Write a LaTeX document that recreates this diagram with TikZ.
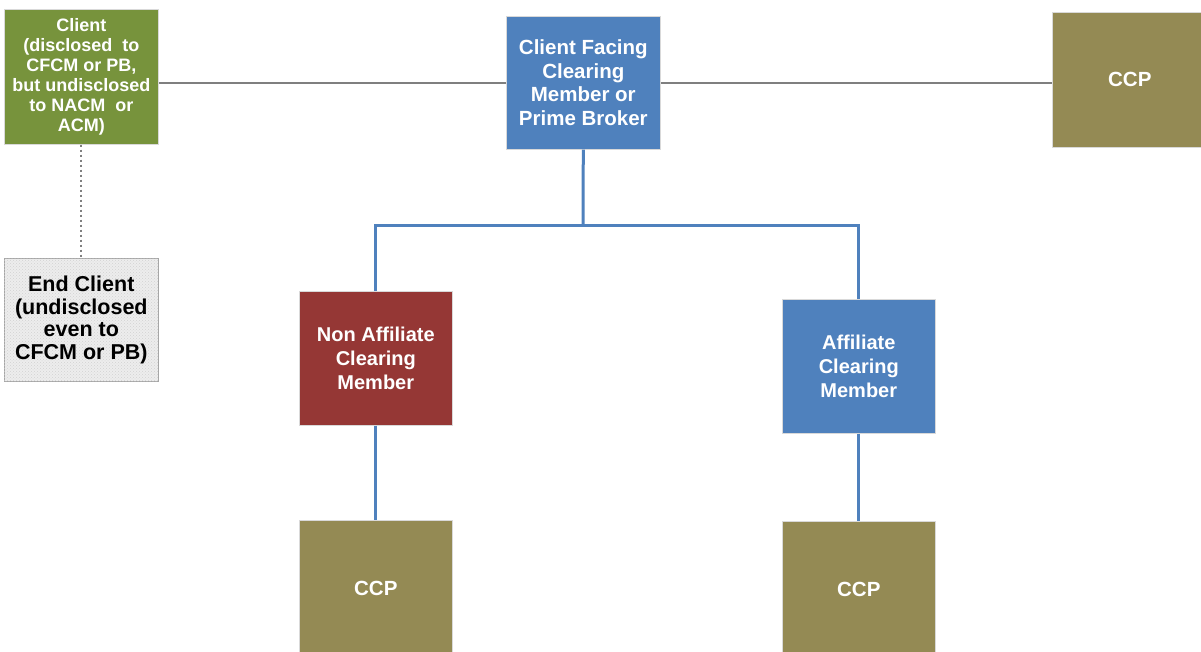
\documentclass[tikz,border=0pt]{standalone}
\usepackage{fontspec}
\setmainfont{Liberation Sans}
\usetikzlibrary{patterns}
\definecolor{cgreen}{HTML}{77933C}
\definecolor{cblue}{HTML}{4F81BD}
\definecolor{cred}{HTML}{953735}
\definecolor{colive}{HTML}{948A54}
\definecolor{cgray}{HTML}{7F7F7F}
\begin{document}
\begin{tikzpicture}[x=1pt,y=-1pt,
  box/.style={anchor=north west,inner sep=0pt,align=center,font=\bfseries,text=white,draw=white!85!black,line width=0.6pt},
  greybar/.style={draw=cgray,line width=2pt},
  bluebar/.style={draw=cblue,line width=3pt},
  dotbar/.style={draw=cgray,line width=2.2pt,dash pattern=on 2.5pt off 2.5pt}
]
\useasboundingbox (0,0) rectangle (1201,652);
\begin{scope}
\clip (0,0) rectangle (1201,652);
\node[box,fill=cgreen,minimum width=154pt,minimum height=135pt,font=\bfseries\fontsize{18}{20}\selectfont] (client) at (4,9)
  {Client\\(disclosed\ \ to\\CFCM or PB,\\but undisclosed\\to NACM\ \ or\\ACM)};
\node[box,fill=white!93!black,postaction={pattern=crosshatch dots,pattern color=black!18},draw=black!35,text=black,minimum width=154pt,minimum height=123pt,font=\bfseries\fontsize{21.5}{22.5}\selectfont] (end) at (4,258)
  {End Client\\(undisclosed\\even to\\CFCM or PB)};
\node[box,fill=cblue,minimum width=154pt,minimum height=133pt,font=\bfseries\fontsize{20.5}{23.7}\selectfont] (cfcm) at (506,16)
  {Client Facing\\Clearing\\Member or\\Prime Broker};
\node[box,fill=colive,minimum width=155pt,minimum height=135pt,font=\bfseries\fontsize{20.5}{23.7}\selectfont] (ccpa) at (1052,12) {CCP};
\node[box,fill=cred,minimum width=153pt,minimum height=134pt,font=\bfseries\fontsize{20}{24}\selectfont] (nacm) at (299,291)
  {Non Affiliate\\Clearing\\Member};
\node[box,fill=cblue,minimum width=153pt,minimum height=134pt,font=\bfseries\fontsize{20}{24}\selectfont] (acm) at (782,299)
  {Affiliate\\Clearing\\Member};
\node[box,fill=colive,minimum width=153pt,minimum height=137pt,font=\bfseries\fontsize{20.5}{24}\selectfont] (ccpb) at (299,520) {CCP};
\node[box,fill=colive,minimum width=153pt,minimum height=136pt,font=\bfseries\fontsize{20.5}{24}\selectfont] (ccpc) at (782,521) {CCP};
\end{scope}
\coordinate (j) at (583,226);
\draw[greybar] (cfcm.west) -- (cfcm.west -| client.east);
\draw[greybar] (cfcm.east) -- (cfcm.east -| ccpa.west);
\draw[dotbar] (client.south) -- (end.north);
\draw[bluebar] (cfcm.south) -- (j);
\draw[bluebar] (nacm.north) |- (j) -| (acm.north);
\draw[bluebar] (nacm.south) -- (ccpb.north);
\draw[bluebar] (acm.south) -- (ccpc.north);
\end{tikzpicture}
\end{document}
